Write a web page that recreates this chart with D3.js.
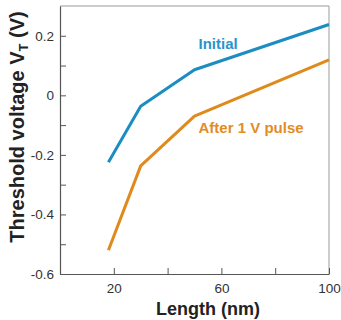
<!DOCTYPE html>
<html>
<head>
<meta charset="utf-8">
<script src="https://cdn.jsdelivr.net/npm/d3@7"></script>
<style>
  body { margin: 0; background: #fff; }
  text { font-family: "Liberation Sans", Arial, sans-serif; }
</style>
</head>
<body>
<div id="chart"></div>
<script>
// data
var lengths = [18, 30, 50, 100];
var initialVt = [-0.225, -0.037, 0.086, 0.238];
var afterPulseVt = [-0.52, -0.237, -0.07, 0.119];
var xTicks = [20, 60, 100];
var xMinorTicks = [40, 80];
var yTicks = [-0.6, -0.4, -0.2, 0, 0.2];
var yMinorTicks = [-0.5, -0.3, -0.1, 0.1];

var svgWidth = 341;
var svgHeight = 320;
var margin = { top: 6, right: 12, bottom: 46, left: 60 };
var width = svgWidth - margin.left - margin.right;
var height = svgHeight - margin.top - margin.bottom;

var svg = d3.select("#chart")
    .append("svg")
    .attr("width", svgWidth)
    .attr("height", svgHeight);

var g = svg.append("g")
    .attr("transform", `translate(${margin.left}, ${margin.top})`);

var x = d3.scaleLinear().domain([0, 100]).range([0, width]);
var y = d3.scaleLinear().domain([-0.6, 0.3]).range([height, 0]);

// frame: top and right in light grey
g.append("line").attr("x1", 0).attr("x2", width).attr("y1", 0).attr("y2", 0)
    .attr("stroke", "#9a9a9a").attr("stroke-width", 1);
g.append("line").attr("x1", width).attr("x2", width).attr("y1", 0).attr("y2", height)
    .attr("stroke", "#9a9a9a").attr("stroke-width", 1);

// x axis, ticks pointing inward
var xAxis = g.append("g")
    .attr("transform", `translate(0, ${height})`)
    .call(d3.axisBottom(x).tickValues(xTicks.concat(xMinorTicks).sort(d3.ascending))
        .tickSizeInner(-6).tickSizeOuter(0)
        .tickFormat(d => xTicks.includes(d) ? d : ""));
xAxis.select(".domain").attr("stroke", "#555").attr("stroke-width", 1.2);
xAxis.selectAll(".tick line").attr("stroke", "#555");
xAxis.selectAll(".tick text")
    .attr("y", 9)
    .attr("fill", "#333")
    .style("font-size", "13.5px");

// y axis, plain hyphen for minus like the original
var yFmt = function (d) {
    if (!yTicks.includes(d)) return "";
    if (d === 0) return "0";
    return (d < 0 ? "-" : "") + Math.abs(d).toFixed(1);
};
var yAxis = g.append("g")
    .call(d3.axisLeft(y).tickValues(yTicks.concat(yMinorTicks).sort(d3.ascending))
        .tickSizeInner(-6).tickSizeOuter(0)
        .tickFormat(yFmt));
yAxis.select(".domain").attr("stroke", "#555").attr("stroke-width", 1.2);
yAxis.selectAll(".tick line").attr("stroke", "#555");
yAxis.selectAll(".tick text")
    .attr("x", -6)
    .attr("fill", "#333")
    .style("font-size", "13.5px");

// lines
var lineGen = d3.line()
    .x(d => x(d[0]))
    .y(d => y(d[1]));

var series = [
    { name: "Initial", values: initialVt, color: "#1b8dc0", labelColor: "#2a93cc", lx: 51.5, ly: 0.155 },
    { name: "After 1 V pulse", values: afterPulseVt, color: "#e08a1c", labelColor: "#e38c26", lx: 51.5, ly: -0.128 }
];

series.forEach(function (s) {
    var pts = lengths.map((l, i) => [l, s.values[i]]);
    g.append("path")
        .datum(pts)
        .attr("fill", "none")
        .attr("stroke", s.color)
        .attr("stroke-width", 3)
        .attr("stroke-linejoin", "round")
        .attr("d", lineGen);

    g.append("text")
        .attr("x", x(s.lx))
        .attr("y", y(s.ly))
        .attr("fill", s.labelColor)
        .style("font-size", "15px")
        .style("font-weight", "bold")
        .text(s.name);
});

// axis titles
svg.append("text")
    .attr("x", margin.left + x(55))
    .attr("y", 315)
    .attr("text-anchor", "middle")
    .attr("fill", "#222")
    .style("font-size", "18px")
    .style("font-weight", "bold")
    .text("Length (nm)");

var yTitle = svg.append("text")
    .attr("transform", "translate(24, 127) rotate(-90)")
    .attr("text-anchor", "middle")
    .attr("fill", "#222")
    .style("font-size", "20px")
    .style("font-weight", "bold");
yTitle.append("tspan").text("Threshold voltage V");
yTitle.append("tspan").attr("dy", 4).style("font-size", "13px").text("T");
yTitle.append("tspan").attr("dy", -4).text(" (V)");
</script>
</body>
</html>
